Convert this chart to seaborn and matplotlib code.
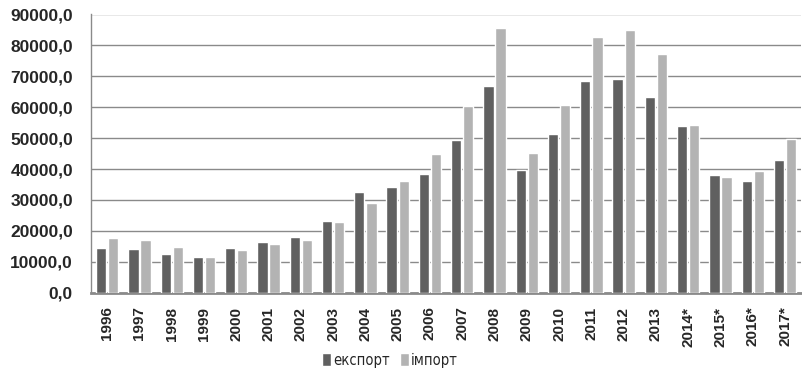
import matplotlib
matplotlib.use("Agg")
import matplotlib.pyplot as plt
import pandas as pd
import seaborn as sns
from matplotlib.ticker import FuncFormatter, MultipleLocator

years = ['1996', '1997', '1998', '1999', '2000', '2001', '2002', '2003', '2004', '2005', '2006',
         '2007', '2008', '2009', '2010', '2011', '2012', '2013', '2014*', '2015*', '2016*', '2017*']
export = [14550, 14220, 12500, 11640, 14550, 16490, 18100, 23280, 32540, 34160, 38470,
          49350, 66810, 39760, 51290, 68530, 69180, 63360, 53880, 38150, 36210, 43000]
imports = [17780, 17130, 14870, 11640, 13900, 15840, 17130, 22950, 29100, 36100, 44830,
           60340, 85560, 45150, 60670, 82760, 85020, 77260, 54200, 37500, 39440, 49780]
series_names = ['експорт', 'імпорт']

df = pd.DataFrame({
    'year': years * 2,
    'value': export + imports,
    'series': [series_names[0]] * len(years) + [series_names[1]] * len(years),
})

sns.set_style("white")
plt.rcParams['font.family'] = ['Liberation Sans', 'DejaVu Sans']

fig = plt.figure(figsize=(8.02, 3.73), dpi=100)
ax = fig.add_axes([91 / 802, 1 - 292.7 / 373, 1 - 91 / 802 - 0.001, (292.7 - 14.5) / 373])

sns.barplot(data=df, x='year', y='value', hue='series', order=years,
            palette=['#606060', '#b3b3b3'], width=0.75, gap=0.15,
            saturation=1, errorbar=None, ax=ax, zorder=3)

ax.set_ylim(0, 90000)
ax.set_xlim(-0.5, len(years) - 0.5)
ax.yaxis.set_major_locator(MultipleLocator(10000))
ax.yaxis.set_major_formatter(FuncFormatter(lambda v, p: '{:.1f}'.format(v).replace('.', ',')))
ax.grid(axis='y', color='#8a8a8a', linewidth=1, zorder=0)
ax.set_axisbelow(True)
ax.set_xlabel('')
ax.set_ylabel('')

for s in ['top', 'right']:
    ax.spines[s].set_visible(False)
ax.spines['left'].set_color('#8a8a8a')
ax.spines['left'].set_linewidth(1)
ax.spines['bottom'].set_color('#8a8a8a')
ax.spines['bottom'].set_linewidth(2)

ax.tick_params(axis='y', length=0, pad=13, labelsize=12.5)
ax.tick_params(axis='x', length=0, pad=10, labelsize=11)
for lbl in ax.get_yticklabels():
    lbl.set_fontweight('bold')
for lbl in ax.get_xticklabels():
    lbl.set_fontweight('bold')
    lbl.set_rotation(90)

ax.get_legend().remove()
handles, labels = ax.get_legend_handles_labels()
fig.legend(handles, labels, loc='center', bbox_to_anchor=(390 / 802, 1 - 360 / 373), ncol=2,
           frameon=False, handlelength=0.6, handleheight=1.0, handletextpad=0.15, columnspacing=0.7,
           prop={'family': ['DejaVu Sans'], 'stretch': 'condensed', 'size': 10.5})

fig.savefig('out.png', dpi=100)
